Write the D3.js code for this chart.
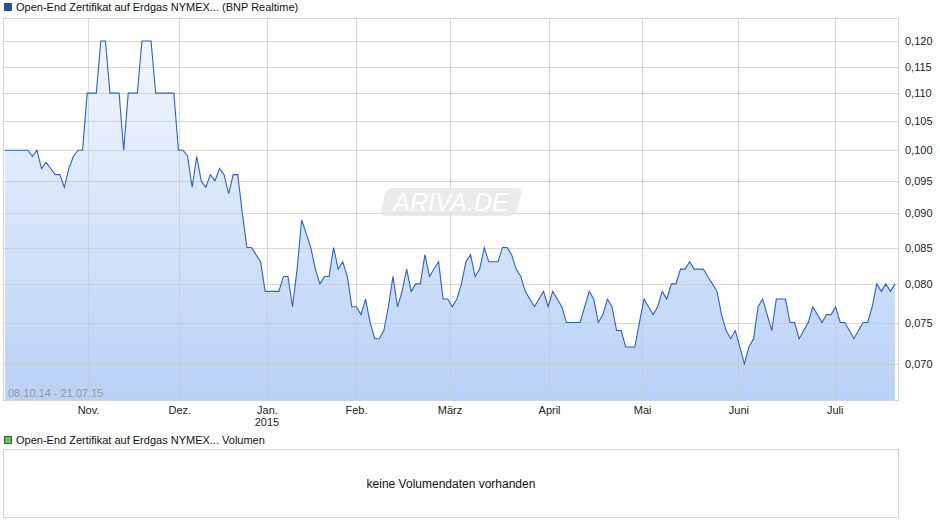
<!DOCTYPE html><html><head><meta charset="utf-8">
<script src="https://cdn.jsdelivr.net/npm/d3@7"></script>
<style>body{margin:0;background:#fff;font-family:Arial,"Liberation Sans",sans-serif}</style></head><body>
<svg id="c" width="940" height="526"></svg>
<script>
const title = "Open-End Zertifikat auf Erdgas NYMEX... (BNP Realtime)";
const volTitle = "Open-End Zertifikat auf Erdgas NYMEX... Volumen";
const rangeLabel = "08.10.14 - 21.07.15";
// one value per trading day, 08.10.14 .. 21.07.15
const values = [0.100,0.100,0.100,0.100,0.100,0.100,0.099,0.100,0.097,0.098,
0.097,0.096,0.096,0.094,0.097,0.099,0.100,0.100,0.110,0.110,
0.110,0.120,0.120,0.110,0.110,0.110,0.100,0.110,0.110,0.110,
0.120,0.120,0.120,0.110,0.110,0.110,0.110,0.110,0.100,0.100,
0.099,0.094,0.099,0.095,0.094,0.096,0.095,0.097,0.096,0.093,
0.096,0.096,0.090,0.085,0.085,0.084,0.083,0.079,0.079,0.079,
0.079,0.081,0.081,0.077,0.082,0.089,0.087,0.085,0.082,0.080,
0.081,0.081,0.085,0.082,0.083,0.081,0.077,0.077,0.076,0.078,
0.075,0.073,0.073,0.074,0.077,0.081,0.077,0.079,0.082,0.079,
0.080,0.080,0.084,0.081,0.082,0.083,0.078,0.078,0.077,0.078,
0.080,0.083,0.084,0.081,0.082,0.085,0.083,0.083,0.083,0.085,
0.085,0.084,0.082,0.081,0.079,0.078,0.077,0.078,0.079,0.077,
0.079,0.078,0.077,0.075,0.075,0.075,0.075,0.077,0.079,0.078,
0.075,0.076,0.078,0.077,0.074,0.074,0.072,0.072,0.072,0.075,
0.078,0.077,0.076,0.077,0.079,0.078,0.080,0.080,0.082,0.082,
0.083,0.082,0.082,0.082,0.081,0.080,0.079,0.076,0.074,0.073,
0.074,0.072,0.070,0.072,0.073,0.077,0.078,0.076,0.074,0.078,
0.078,0.078,0.075,0.075,0.073,0.074,0.075,0.077,0.076,0.075,
0.076,0.076,0.077,0.075,0.075,0.074,0.073,0.074,0.075,0.075,
0.077,0.080,0.079,0.080,0.079,0.080];
const monthLabels = ["Nov.","Dez.","Jan.","Feb.","März","April","Mai","Juni","Juli"];
const monthPos = [18.2,38.2,57.4,76.9,97.4,119.2,139.6,160.7,181.8]; // trading-day index of month start
const yTicks = [0.070,0.075,0.080,0.085,0.090,0.095,0.100,0.105,0.110,0.115,0.120];

const svg = d3.select("#c");
const L=3,R=898,T=18,B=400;
const x = d3.scaleLinear().domain([0,values.length-1]).range([5,895]);
const y = d3.scaleLog().domain([0.0659,0.1247]).range([B,T]);

const defs = svg.append("defs");
const g = defs.append("linearGradient").attr("id","fg").attr("x1",0).attr("x2",0).attr("y1",0).attr("y2",1);
g.append("stop").attr("offset","0%").attr("stop-color","#f2f7fe");
g.append("stop").attr("offset","100%").attr("stop-color","#b9d1f6");

svg.append("rect").attr("x",4.5).attr("y",3.5).attr("width",7).attr("height",7).attr("fill","#1f4fb0").attr("stroke","#333").attr("stroke-width",0.8);
svg.append("text").attr("x",16).attr("y",11).attr("font-size",11).attr("fill","#111").text(title);

svg.append("rect").attr("x",L+0.5).attr("y",T+0.5).attr("width",R-L).attr("height",B-T).attr("fill","#fff").attr("stroke","#d4d4d4");

svg.append("path").datum(values).attr("fill","url(#fg)")
 .attr("d",d3.area().x((d,i)=>x(i)).y0(B).y1(d=>y(d)));

svg.append("g").selectAll("line").data(yTicks).join("line")
 .attr("x1",L).attr("x2",R).attr("y1",d=>Math.round(y(d))+0.5).attr("y2",d=>Math.round(y(d))+0.5)
 .attr("stroke","#c8c8c8").attr("stroke-opacity",0.7);
svg.append("g").selectAll("line").data(monthPos).join("line")
 .attr("x1",d=>Math.round(x(d))+0.5).attr("x2",d=>Math.round(x(d))+0.5).attr("y1",T).attr("y2",B)
 .attr("stroke","#c8c8c8").attr("stroke-opacity",0.7);

// watermark
const wm = svg.append("g").attr("transform","translate(451,202)");
wm.append("rect").attr("x",-68).attr("y",-14).attr("width",136).attr("height",28).attr("rx",6)
 .attr("transform","skewX(-15)").attr("fill","#e6e6e6").attr("fill-opacity",0.8);
wm.append("text").attr("x",0).attr("y",9).attr("text-anchor","middle").attr("font-size",25).attr("font-style","italic")
 .attr("fill","#ffffff").text("ARIVA.DE");

svg.append("path").datum(values).attr("fill","none").attr("stroke","#2d62c8").attr("stroke-width",1.1)
 .attr("d",d3.line().x((d,i)=>x(i)).y(d=>y(d)));

const ya = d3.axisRight(y).tickValues(yTicks).tickSize(0).tickFormat(d=>d3.format(".3f")(d).replace(".",","));
svg.append("g").attr("transform",`translate(${R+4},0)`).call(ya).call(s=>{s.select(".domain").remove();s.selectAll("text").attr("font-size",11).attr("fill","#222").attr("font-family","Arial,'Liberation Sans',sans-serif");});
const xa = d3.axisBottom(x).tickValues(monthPos).tickSize(0).tickFormat((d,i)=>monthLabels[i]);
svg.append("g").attr("transform",`translate(0,${B+3})`).call(xa).call(s=>{s.select(".domain").remove();s.selectAll("text").attr("font-size",11).attr("fill","#222").attr("font-family","Arial,'Liberation Sans',sans-serif");});
svg.append("text").attr("x",x(monthPos[2])).attr("y",426).attr("text-anchor","middle").attr("font-size",11).attr("fill","#222").text("2015");

svg.append("text").attr("x",8).attr("y",397).attr("font-size",11).attr("fill","#999").text(rangeLabel);

svg.append("rect").attr("x",4.5).attr("y",436.5).attr("width",7).attr("height",7).attr("fill","#5cc85c").attr("stroke","#333").attr("stroke-width",0.8);
svg.append("text").attr("x",16).attr("y",444).attr("font-size",11).attr("fill","#111").text(volTitle);
svg.append("rect").attr("x",L+0.5).attr("y",449.5).attr("width",R-L).attr("height",68).attr("fill","#fff").attr("stroke","#d4d4d4");
svg.append("text").attr("x",451).attr("y",488).attr("text-anchor","middle").attr("font-size",12).attr("fill","#111").text("keine Volumendaten vorhanden");
</script></body></html>
